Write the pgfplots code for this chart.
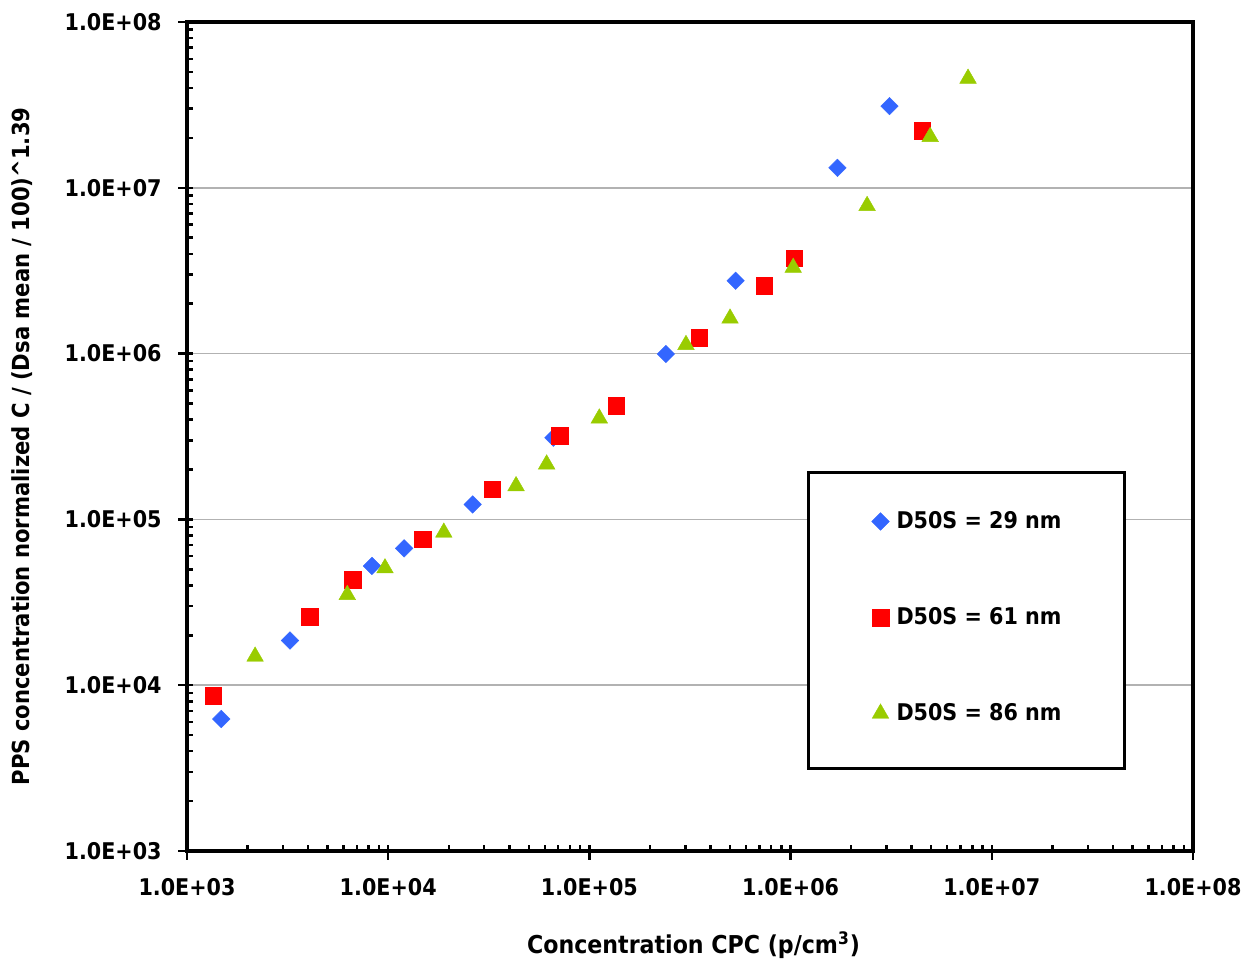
\documentclass[border=0pt]{standalone}
\usepackage{fontspec}
\setmainfont{DejaVu Sans Condensed}
\usepackage{pgfplots}
\pgfplotsset{compat=1.18}
\definecolor{cblue}{RGB}{51,102,255}
\definecolor{cred}{RGB}{255,0,0}
\definecolor{cgreen}{RGB}{153,204,0}
\newcommand{\lf}{\fontsize{11.5}{14}\selectfont\bfseries}
\newcommand{\tf}{\fontsize{12.3}{14}\selectfont\bfseries}
\newcommand{\yf}{\fontsize{11.75}{14}\selectfont\bfseries}
\begin{document}
\begin{tikzpicture}
\begin{axis}[
  name=ax,
  xmode=log, ymode=log,
  scale only axis, width=503pt, height=414.5pt,
  xmin=1e3, xmax=1e8, ymin=1e3, ymax=1e8,
  xtick={1e3,1e4,1e5,1e6,1e7,1e8},
  xticklabels={1.0E+03,1.0E+04,1.0E+05,1.0E+06,1.0E+07,1.0E+08},
  ytick={1e3,1e4,1e5,1e6,1e7,1e8},
  yticklabels={1.0E+03,1.0E+04,1.0E+05,1.0E+06,1.0E+07,1.0E+08},
  xtick pos=left, ytick pos=left,
  tick align=inside,
  major tick length=3pt, minor tick length=3pt,
  tick style={black, line width=1.25pt},
  axis line style={line width=1.75pt},
  ymajorgrids,
  major grid style={black!30, line width=0.75pt},
  extra x ticks={1e3,1e4,1e5,1e6,1e7,1e8}, extra x tick labels={},
  extra y ticks={1e3,1e4,1e5,1e6,1e7,1e8}, extra y tick labels={},
  extra tick style={tick align=outside, major tick length=4.5pt, grid=none},
  xticklabel style={font=\lf, anchor=north, inner sep=0pt, yshift=-13.5pt},
  yticklabel style={font=\lf, anchor=east, inner sep=0pt, xshift=-12.5pt},
  xlabel={Concentration CPC (p/cm\textsuperscript{3})},
  ylabel={PPS concentration normalized C / (Dsa mean / 100)\textasciicircum 1.39},
  every axis x label/.style={at={(axis description cs:0.5035,0)}, anchor=center, yshift=-47pt, font=\tf},
  every axis y label/.style={at={(axis description cs:-0.164,0.488)}, anchor=center, rotate=90, font=\yf},
  legend cell align=left,
  legend style={at={(axis description cs:0.6163,0.4584)}, anchor=north west,
    draw=black, fill=white, line width=1.5pt, inner xsep=0pt, inner ysep=2pt,
    row sep=0pt, column sep=0pt, nodes={inner sep=0pt, font=\lf}, cells={anchor=west}},
  legend image code/.code={%
    \path[draw=none,fill=none] (-36pt,-25.5pt) rectangle (8pt,22.5pt);
    \draw[#1] plot coordinates {(0pt,0pt)};
  },
]
\addplot[only marks, color=cblue, mark=square*, mark size=3.1pt, mark options={rotate=45, fill=cblue, draw=cblue, line width=0.2pt}] coordinates {
(1.48e3,6.25e3) (3.25e3,1.86e4) (8.3e3,5.24e4) (1.20e4,6.69e4) (2.63e4,1.23e5)
(6.62e4,3.11e5) (2.40e5,9.95e5) (5.33e5,2.75e6) (1.71e6,1.32e7) (3.10e6,3.11e7)
};
\addlegendentry{\makebox[114pt][l]{D50S = 29 nm}}
\addplot[only marks, color=cred, mark=square*, mark size=4.15pt, mark options={fill=cred, draw=cred, line width=0.2pt}] coordinates {
(1.35e3,8.65e3) (4.07e3,2.59e4) (6.66e3,4.31e4) (1.48e4,7.59e4) (3.29e4,1.52e5)
(7.14e4,3.20e5) (1.36e5,4.83e5) (3.52e5,1.25e6) (7.40e5,2.56e6) (1.04e6,3.76e6)
(4.50e6,2.21e7)
};
\addlegendentry{\makebox[114pt][l]{D50S = 61 nm}}
\addplot[only marks, color=cgreen, mark=triangle*, mark size=4.8pt, mark options={fill=cgreen, draw=cgreen, line width=0.2pt}] coordinates {
(2.18e3,1.49e4) (6.26e3,3.51e4) (9.64e3,5.08e4) (1.89e4,8.34e4) (4.32e4,1.59e5)
(6.13e4,2.15e5) (1.12e5,4.07e5) (3.02e5,1.13e6) (5.00e5,1.63e6) (1.03e6,3.30e6)
(2.40e6,7.79e6) (4.94e6,2.03e7) (7.62e6,4.56e7)
};
\addlegendentry{\makebox[114pt][l]{D50S = 86 nm}}
\end{axis}
\pgfresetboundingbox
\path[use as bounding box] ([xshift=-93.5pt,yshift=-54.5pt]ax.south west) rectangle ([xshift=25.5pt,yshift=11pt]ax.north east);
\end{tikzpicture}
\end{document}
